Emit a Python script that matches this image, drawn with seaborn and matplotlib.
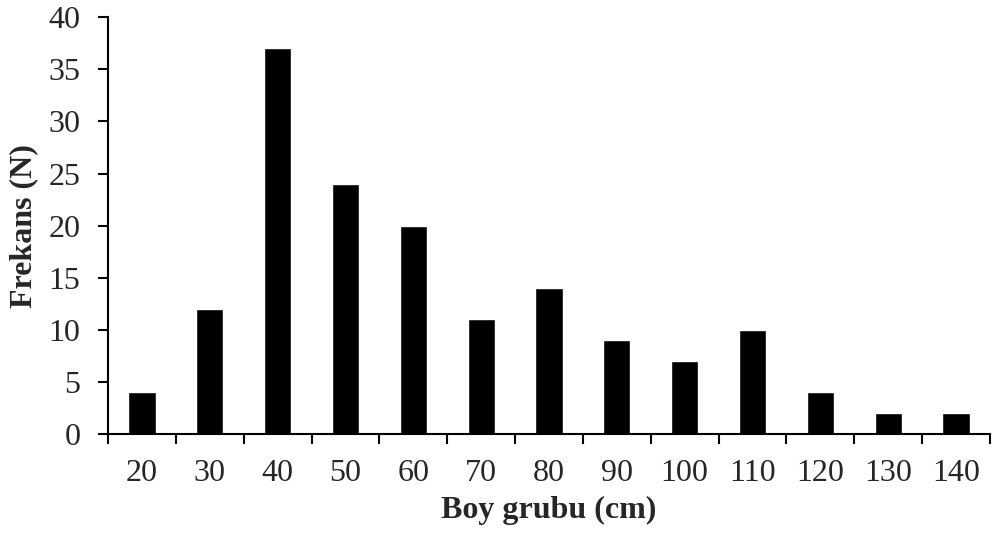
import matplotlib
matplotlib.use("Agg")
import matplotlib.pyplot as plt
import seaborn as sns
import pandas as pd
import numpy as np

categories = ["20", "30", "40", "50", "60", "70", "80", "90", "100", "110", "120", "130", "140"]
frequencies = [4, 12, 37, 24, 20, 11, 14, 9, 7, 10, 4, 2, 2]
y_ticks = [0, 5, 10, 15, 20, 25, 30, 35, 40]

sns.set_theme(style="white")
plt.rcParams['font.family'] = ['Liberation Serif', 'DejaVu Serif']

df = pd.DataFrame({"Boy": categories, "Frekans": frequencies})

fig = plt.figure(figsize=(9.92, 5.35), dpi=100)
ax = fig.add_axes([0.1089, 0.1888, 0.889, 0.779])
sns.barplot(data=df, x="Boy", y="Frekans", order=categories, color="black",
            width=0.4, saturation=1, ax=ax)

ax.set_xlim(-0.5, len(categories) - 0.5)
ax.set_ylim(0, 40)
ax.set_yticks(y_ticks)
ax.set_yticklabels([str(v) for v in y_ticks], fontsize=23)
ax.set_xticks(range(len(categories)))
ax.set_xticklabels(categories, fontsize=23)
ax.set_xticks(np.arange(-0.5, len(categories), 1.0), minor=True)
ax.tick_params(axis='x', which='major', length=0, pad=18)
ax.tick_params(axis='x', which='minor', length=7, width=1.5, direction='out', color='black', bottom=True)
ax.tick_params(axis='y', which='major', length=7, width=1.5, direction='out', color='black', left=True, pad=13)

for s in ["top", "right"]:
    ax.spines[s].set_visible(False)
for s in ["left", "bottom"]:
    ax.spines[s].set_color("black")
    ax.spines[s].set_linewidth(1.5)

ax.set_xlabel("Boy grubu (cm)", fontsize=23, fontweight="bold", labelpad=6)
ax.set_ylabel("Frekans (N)", fontsize=23, fontweight="bold", labelpad=7)

fig.savefig("out.png", dpi=100)
